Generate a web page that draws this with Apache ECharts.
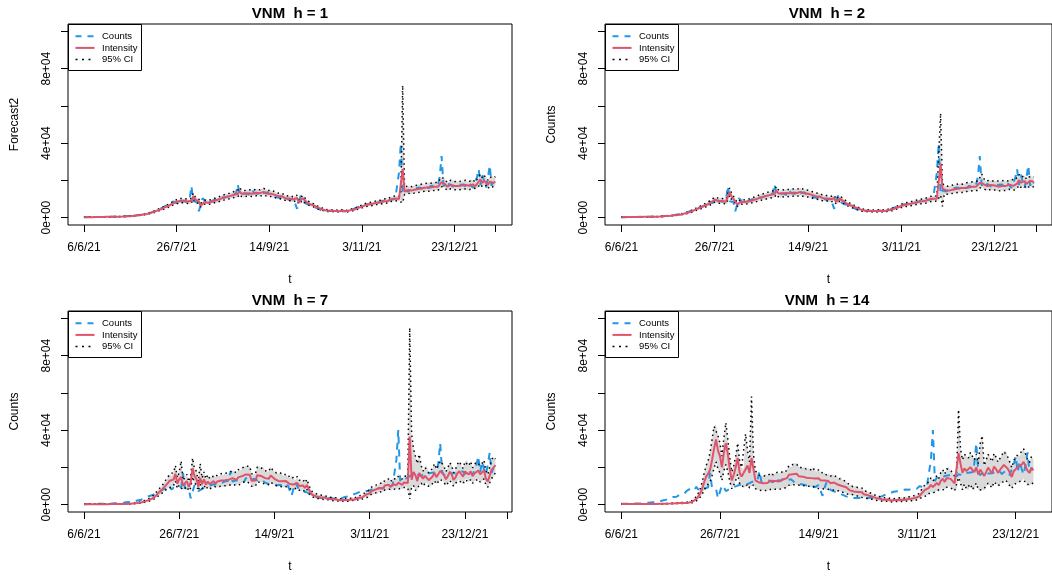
<!DOCTYPE html>
<html>
<head>
<meta charset="utf-8">
<script src="https://cdn.jsdelivr.net/npm/echarts@6/dist/echarts.min.js"></script>
<style>
  html, body { margin: 0; padding: 0; background: #fff; }
  #chart { width: 1052px; height: 576px; }
</style>
</head>
<body>
<div id="chart"></div>
<script>
// daily values in thousands, day 0 = 6/6/21
const counts = [
  0.2,0.2,0.3,0.2,0.3,0.3,0.2,0.3,0.3,0.3,
  0.3,0.4,0.3,0.4,0.4,0.4,0.5,0.4,0.5,0.5,
  0.5,0.6,0.7,0.6,0.8,0.9,0.8,1.0,1.2,1.3,
  1.4,1.6,1.5,1.9,2.2,2.4,2.6,3.1,3.4,4.0,
  4.5,4.2,5.1,5.6,6.3,6.0,7.2,7.5,8.6,8.3,
  7.8,9.6,8.0,9.1,8.7,8.5,7.9,9.3,17.0,8.8,
  9.7,8.4,3.4,4.1,10.4,9.3,7.2,7.6,8.4,9.0,
  9.4,8.8,10.2,9.9,10.9,11.4,10.7,11.6,11.5,12.1,
  12.5,11.9,12.7,18.0,12.4,11.6,13.0,13.4,12.9,13.8,
  11.9,14.3,13.1,13.6,12.8,13.9,14.1,13.0,12.4,13.6,
  12.6,11.8,12.2,11.1,11.4,10.8,11.6,10.3,9.9,10.6,
  10.2,9.3,9.6,10.4,10.9,4.7,8.8,11.8,9.7,7.9,
  7.4,7.0,6.2,6.6,5.6,5.3,4.9,4.4,4.0,3.6,
  3.8,3.5,3.4,3.6,3.3,3.5,3.7,3.2,3.5,3.8,
  3.6,3.3,3.9,4.1,3.7,4.4,5.0,5.3,5.6,6.0,
  6.4,6.9,6.6,7.2,7.5,7.3,7.9,8.1,8.4,8.0,
  8.7,8.9,9.3,8.6,9.8,10.1,9.5,10.4,10.2,9.9,
  24.0,40.0,12.6,14.5,15.1,14.0,14.8,15.3,15.0,15.7,
  15.4,16.2,15.9,15.1,16.3,16.6,15.8,16.9,16.4,17.1,
  16.2,17.3,22.0,33.0,17.6,15.8,16.9,18.1,17.4,16.7,
  17.5,16.8,16.2,17.6,16.9,17.8,16.4,17.2,18.3,17.6,
  15.9,18.8,21.3,26.0,17.4,23.0,19.2,16.1,21.5,28.0,
  17.0,19.8,18.4
];

// h = 1
const int1 = [
  0.2,0.2,0.2,0.3,0.2,0.3,0.3,0.3,0.3,0.3,
  0.3,0.3,0.4,0.4,0.4,0.4,0.4,0.5,0.5,0.5,
  0.5,0.5,0.6,0.7,0.7,0.8,0.9,0.9,1.0,1.2,
  1.3,1.4,1.6,1.7,1.9,2.2,2.5,2.7,3.1,3.5,
  4.0,4.4,4.6,5.2,5.7,6.2,6.4,7.0,7.6,8.3,
  8.4,8.2,9.0,8.6,9.0,8.8,8.6,8.3,9.0,11.5,
  9.8,9.4,8.6,6.5,6.8,8.2,8.8,8.0,8.0,8.5,
  8.9,9.2,9.1,9.8,10.0,10.6,11.1,11.0,11.4,11.6,
  11.9,12.3,12.1,12.6,14.2,12.8,12.2,12.8,13.2,13.1,
  13.5,12.8,13.7,13.3,13.5,13.1,13.6,13.8,13.3,12.8,
  13.2,12.8,12.2,12.2,11.6,11.5,11.1,11.4,10.7,10.2,
  10.4,10.3,9.7,9.7,10.2,10.5,8.2,8.6,10.4,9.8,
  8.5,7.7,7.2,6.5,6.5,5.9,5.5,5.1,4.7,4.3,
  3.9,3.9,3.6,3.5,3.6,3.4,3.5,3.6,3.4,3.5,
  3.7,3.6,3.4,3.8,4.0,3.9,4.3,4.8,5.2,5.5,
  5.9,6.3,6.7,6.7,7.1,7.4,7.4,7.8,8.0,8.3,
  8.2,8.6,8.8,9.2,8.9,9.6,9.9,9.7,10.2,10.2,
  10.0,11.0,26.0,14.0,14.3,14.8,14.3,14.6,15.1,15.1,
  15.5,15.5,16.0,15.9,15.4,16.1,16.5,16.1,16.7,16.6,
  17.0,16.5,17.1,19.0,19.5,17.8,16.6,16.8,17.6,17.5,
  17.0,17.3,16.9,16.5,17.2,17.0,17.5,16.8,17.1,17.9,
  17.8,16.7,17.9,18.4,20.5,18.6,19.8,19.5,17.6,19.2,
  20.0,18.6,19.3
];
const up1 = [
  0.3,0.3,0.3,0.4,0.3,0.4,0.4,0.4,0.4,0.4,
  0.4,0.4,0.5,0.5,0.5,0.5,0.5,0.6,0.6,0.6,
  0.6,0.6,0.7,0.8,0.8,0.9,1.0,1.1,1.2,1.4,
  1.5,1.6,1.8,2.0,2.2,2.5,2.9,3.1,3.5,4.0,
  4.5,5.0,5.2,5.9,6.5,7.0,7.3,7.9,8.6,9.4,
  9.6,9.3,10.3,9.8,10.3,10.0,9.8,9.5,10.3,13.1,
  11.2,10.8,9.9,7.6,7.9,9.4,10.1,9.2,9.2,9.8,
  10.2,10.5,10.4,11.2,11.4,12.1,12.7,12.6,13.0,13.2,
  13.6,14.0,13.8,14.4,16.2,14.6,13.9,14.6,15.0,14.9,
  15.4,14.6,15.6,15.2,15.4,14.9,15.5,15.7,15.2,14.6,
  15.1,14.6,13.9,13.9,13.2,13.1,12.7,13.0,12.2,11.6,
  11.9,11.8,11.1,11.1,11.7,12.0,9.4,9.9,11.9,11.2,
  9.7,8.8,8.2,7.4,7.4,6.7,6.3,5.8,5.4,4.9,
  4.5,4.5,4.1,4.0,4.1,3.9,4.0,4.1,3.9,4.0,
  4.2,4.1,3.9,4.3,4.6,4.5,4.9,5.5,5.9,6.3,
  6.7,7.2,7.6,7.6,8.1,8.4,8.4,8.9,9.1,9.5,
  9.3,9.8,10.0,10.5,10.1,10.9,11.3,11.1,11.6,11.6,
  11.4,12.5,71.0,16.5,16.3,16.9,16.3,16.6,17.2,17.2,
  17.7,17.7,18.2,18.1,17.6,18.4,18.8,18.4,19.0,18.9,
  19.4,18.8,19.5,21.7,22.2,20.3,18.9,19.2,20.1,20.0,
  19.4,19.7,19.3,18.8,19.6,19.4,20.0,19.2,19.5,20.4,
  20.3,19.0,20.4,21.0,23.4,21.2,22.6,22.2,20.1,21.9,
  22.8,21.2,22.0
];
const lo1 = [
  0.1,0.1,0.1,0.2,0.1,0.2,0.2,0.2,0.2,0.2,
  0.2,0.2,0.3,0.3,0.3,0.3,0.3,0.4,0.4,0.4,
  0.4,0.4,0.5,0.6,0.6,0.7,0.8,0.8,0.9,1.0,
  1.1,1.2,1.4,1.5,1.7,1.9,2.2,2.4,2.7,3.1,
  3.5,3.9,4.0,4.6,5.0,5.5,5.6,6.2,6.7,7.3,
  7.4,7.2,7.9,7.6,7.9,7.7,7.6,7.3,7.9,10.1,
  8.6,8.3,7.6,5.7,6.0,7.2,7.7,7.0,7.0,7.5,
  7.8,8.1,8.0,8.6,8.8,9.3,9.8,9.7,10.0,10.2,
  10.5,10.8,10.6,11.1,12.5,11.3,10.7,11.3,11.6,11.5,
  11.9,11.3,12.1,11.7,11.9,11.5,12.0,12.1,11.7,11.3,
  11.6,11.3,10.7,10.7,10.2,10.1,9.8,10.0,9.4,9.0,
  9.2,9.1,8.5,8.5,9.0,9.2,7.2,7.6,9.2,8.6,
  7.5,6.8,6.3,5.7,5.7,5.2,4.8,4.5,4.1,3.8,
  3.4,3.4,3.2,3.1,3.2,3.0,3.1,3.2,3.0,3.1,
  3.3,3.2,3.0,3.3,3.5,3.4,3.8,4.2,4.6,4.8,
  5.2,5.5,5.9,5.9,6.2,6.5,6.5,6.9,7.0,7.3,
  7.2,7.6,7.7,8.1,7.8,8.4,8.7,8.5,9.0,9.0,
  8.8,9.7,7.9,12.3,12.6,13.0,12.6,12.8,13.3,13.3,
  13.6,13.6,14.1,14.0,13.6,14.2,14.5,14.2,14.7,14.6,
  15.0,14.5,15.0,16.7,17.2,15.7,14.6,14.8,15.5,15.4,
  15.0,15.2,14.9,14.5,15.1,15.0,15.4,14.8,15.0,15.8,
  15.7,14.7,15.8,16.2,18.0,16.4,17.4,17.2,15.5,16.9,
  17.6,16.4,17.0
];

// h = 2
const int2 = [
  0.2,0.2,0.3,0.2,0.3,0.3,0.3,0.3,0.3,0.3,
  0.3,0.4,0.4,0.4,0.4,0.4,0.5,0.5,0.5,0.5,
  0.5,0.6,0.7,0.7,0.8,0.9,0.9,1.0,1.2,1.3,
  1.4,1.6,1.7,1.9,2.2,2.5,2.7,3.1,3.5,4.0,
  4.4,4.6,5.2,5.7,6.2,6.4,7.0,7.5,8.1,8.7,
  9.6,8.8,9.0,9.3,8.9,8.7,8.5,9.0,13.8,11.2,
  10.0,9.2,7.0,7.2,8.4,9.0,8.3,8.2,8.6,8.9,
  9.2,9.3,9.8,10.1,10.6,11.0,11.1,11.4,11.7,11.9,
  12.2,12.2,12.7,14.5,13.0,12.4,12.8,13.1,13.2,13.4,
  13.0,13.6,13.4,13.5,13.2,13.6,13.8,13.4,13.0,13.1,
  12.8,12.3,12.2,11.7,11.5,11.2,11.3,10.8,10.4,10.4,
  10.3,9.8,9.8,10.1,10.4,8.5,8.5,10.2,10.0,8.8,
  7.9,7.3,6.7,6.5,6.0,5.6,5.2,4.8,4.4,4.0,
  3.9,3.7,3.6,3.6,3.5,3.5,3.6,3.5,3.5,3.7,
  3.6,3.5,3.7,3.9,4.0,4.3,4.7,5.1,5.5,5.8,
  6.2,6.6,6.7,7.0,7.3,7.4,7.7,7.9,8.2,8.3,
  8.5,8.7,9.0,9.0,9.4,9.8,9.8,10.1,10.2,10.1,
  10.8,29.0,15.5,14.6,14.7,14.5,14.6,15.0,15.1,15.4,
  15.5,15.8,15.9,15.6,15.9,16.3,16.2,16.6,16.6,16.9,
  16.6,17.0,18.6,19.5,18.0,17.0,16.9,17.4,17.5,17.1,
  17.2,17.0,16.6,17.0,17.0,17.3,17.0,17.1,17.7,17.8,
  17.0,17.6,18.2,20.2,18.8,19.6,19.6,18.0,19.0,19.8,
  18.9,19.1
];
const up2 = [
  0.3,0.3,0.4,0.3,0.4,0.4,0.4,0.4,0.4,0.4,
  0.4,0.5,0.5,0.5,0.5,0.5,0.6,0.6,0.6,0.6,
  0.6,0.7,0.8,0.8,0.9,1.0,1.0,1.2,1.4,1.5,
  1.6,1.8,2.0,2.2,2.5,2.9,3.1,3.6,4.0,4.6,
  5.1,5.3,6.0,6.6,7.1,7.4,8.1,8.6,9.3,10.0,
  11.0,10.1,10.4,10.7,10.2,10.0,9.8,10.4,15.9,12.9,
  11.5,10.6,8.1,8.3,9.7,10.4,9.5,9.4,9.9,10.2,
  10.6,10.7,11.3,11.6,12.2,12.7,12.8,13.1,13.5,13.7,
  14.0,14.0,14.6,16.7,15.0,14.3,14.7,15.1,15.2,15.4,
  15.0,15.6,15.4,15.5,15.2,15.6,15.9,15.4,15.0,15.1,
  14.7,14.1,14.0,13.5,13.2,12.9,13.0,12.4,12.0,12.0,
  11.8,11.3,11.3,11.6,12.0,9.8,9.8,11.7,11.5,10.1,
  9.1,8.4,7.7,7.5,6.9,6.4,6.0,5.5,5.1,4.6,
  4.5,4.3,4.1,4.1,4.0,4.0,4.1,4.0,4.0,4.3,
  4.1,4.0,4.3,4.5,4.6,4.9,5.4,5.9,6.3,6.7,
  7.1,7.6,7.7,8.1,8.4,8.5,8.9,9.1,9.4,9.5,
  9.8,10.0,10.4,10.4,10.8,11.3,11.3,11.6,11.7,11.6,
  12.4,56.0,18.5,17.1,17.0,16.8,16.9,17.3,17.4,17.7,
  17.8,18.2,18.3,17.9,18.3,18.7,18.6,19.1,19.1,19.4,
  19.1,19.6,21.4,23.5,21.3,19.6,19.4,20.0,20.1,19.7,
  19.8,19.6,19.1,19.6,19.6,19.9,19.6,19.7,20.4,20.5,
  19.6,20.2,20.9,23.2,21.6,22.5,22.5,20.7,21.9,22.8,
  21.7,22.0
];
const lo2 = [
  0.1,0.1,0.2,0.1,0.2,0.2,0.2,0.2,0.2,0.2,
  0.2,0.3,0.3,0.3,0.3,0.3,0.4,0.4,0.4,0.4,
  0.4,0.5,0.6,0.6,0.7,0.8,0.8,0.9,1.0,1.1,
  1.2,1.4,1.5,1.6,1.9,2.2,2.3,2.7,3.0,3.4,
  3.8,4.0,4.5,4.9,5.3,5.5,6.0,6.5,7.0,7.5,
  8.3,7.6,7.7,8.0,7.7,7.5,7.3,7.7,11.9,9.6,
  8.6,7.9,6.0,6.2,7.2,7.7,7.1,7.1,7.4,7.7,
  7.9,8.0,8.4,8.7,9.1,9.5,9.5,9.8,10.1,10.2,
  10.5,10.5,10.9,12.5,11.2,10.7,11.0,11.3,11.4,11.5,
  11.2,11.7,11.5,11.6,11.4,11.7,11.9,11.5,11.2,11.3,
  11.0,10.6,10.5,10.1,9.9,9.6,9.7,9.3,8.9,8.9,
  8.9,8.4,8.4,8.7,8.9,7.3,7.3,8.8,8.6,7.6,
  6.8,6.3,5.8,5.6,5.2,4.8,4.5,4.1,3.8,3.4,
  3.4,3.2,3.1,3.1,3.0,3.0,3.1,3.0,3.0,3.2,
  3.1,3.0,3.2,3.4,3.4,3.7,4.0,4.4,4.7,5.0,
  5.3,5.7,5.8,6.0,6.3,6.4,6.6,6.8,7.1,7.1,
  7.3,7.5,7.7,7.7,8.1,8.4,8.4,8.7,8.8,8.7,
  9.3,12.0,6.0,12.6,12.6,12.5,12.6,12.9,13.0,13.2,
  13.3,13.6,13.7,13.4,13.7,14.0,13.9,14.3,14.3,14.5,
  14.3,14.6,16.0,16.8,15.5,14.6,14.5,15.0,15.1,14.7,
  14.8,14.6,14.3,14.6,14.6,14.9,14.6,14.7,15.2,15.3,
  14.6,15.1,15.7,17.4,16.2,16.9,16.9,15.5,16.3,17.0,
  16.3,16.4
];

// h = 7
const int7 = [
  0.2,0.2,0.2,0.2,0.2,0.2,0.2,0.2,0.2,0.2,
  0.2,0.2,0.2,0.2,0.3,0.3,0.3,0.3,0.3,0.3,
  0.3,0.3,0.3,0.4,0.4,0.5,0.6,0.7,0.8,1.0,
  1.1,1.4,1.7,2.0,2.4,2.8,3.3,4.2,5.0,6.2,
  7.0,7.9,9.2,9.8,11.5,12.8,12.0,13.4,16.5,11.2,
  13.6,14.8,10.1,11.5,12.6,9.5,11.8,19.5,15.2,13.8,
  9.6,14.2,11.0,13.6,10.7,12.4,10.9,11.8,12.6,11.3,
  12.4,11.7,12.9,12.2,13.1,12.6,13.4,13.0,14.2,13.7,
  13.3,14.6,14.0,15.3,15.9,16.2,15.7,16.0,12.8,12.5,
  12.9,15.8,16.2,15.4,16.1,14.2,13.6,13.9,15.6,14.6,
  13.8,13.2,12.7,13.4,12.5,11.9,12.6,11.6,11.0,12.0,
  10.8,10.1,11.6,10.0,9.4,10.3,8.9,10.5,8.2,6.2,
  5.1,4.6,4.4,4.1,3.9,3.6,3.8,3.4,3.1,3.3,
  2.9,2.6,2.8,2.5,2.3,2.6,2.4,2.2,2.5,2.3,
  2.6,2.9,2.7,3.2,3.5,3.1,3.8,4.6,5.3,5.0,
  6.1,7.3,6.8,8.0,7.5,8.9,9.6,8.7,10.3,9.9,
  10.6,9.4,10.9,11.3,10.5,11.8,11.2,10.6,11.9,12.4,
  11.6,36.6,13.3,17.5,15.8,12.6,16.9,16.2,13.9,15.4,
  16.0,13.1,12.9,15.1,17.0,14.7,16.3,18.1,18.7,15.9,
  13.6,15.2,17.4,16.3,13.2,14.5,16.8,17.9,16.4,15.0,
  17.8,18.5,16.1,17.9,15.2,16.7,17.6,18.3,16.2,17.1,
  18.4,13.9,12.4,15.6,18.6,19.8,21.2
];
const up7 = [
  0.3,0.3,0.3,0.3,0.3,0.3,0.3,0.3,0.3,0.3,
  0.3,0.3,0.3,0.3,0.4,0.4,0.4,0.4,0.4,0.4,
  0.4,0.4,0.4,0.5,0.5,0.7,0.8,0.9,1.1,1.4,
  1.5,1.9,2.3,2.7,3.2,3.7,4.4,5.5,6.5,8.0,
  9.0,10.2,11.8,12.6,14.7,16.4,15.4,17.2,21.0,14.4,
  17.4,23.4,13.0,14.8,16.2,12.3,15.2,25.0,19.5,17.8,
  12.4,22.0,14.2,17.5,13.8,16.0,14.0,15.2,16.2,14.6,
  16.0,15.1,16.6,15.7,16.8,16.2,17.2,16.7,18.2,17.6,
  17.1,18.7,18.0,19.6,20.3,20.7,20.1,20.5,16.5,16.1,
  16.6,20.2,20.7,19.7,20.6,18.2,17.5,17.9,20.0,18.7,
  17.7,17.0,16.4,17.2,16.1,15.4,16.2,15.0,14.2,15.5,
  14.0,13.1,15.0,13.0,12.2,13.5,11.6,13.6,10.7,8.1,
  6.7,6.0,5.8,5.4,5.1,4.7,5.0,4.5,4.1,4.3,
  3.8,3.4,3.7,3.3,3.0,3.4,3.2,2.9,3.3,3.0,
  3.4,3.8,3.5,4.2,4.6,4.1,5.0,6.0,6.9,6.5,
  7.9,9.4,8.8,10.3,9.7,11.5,12.4,11.3,13.3,12.8,
  13.7,12.2,14.1,14.6,13.6,15.2,14.5,13.7,15.4,16.0,
  15.0,95.0,38.0,30.0,26.0,22.0,27.0,21.0,18.0,20.0,
  20.7,17.0,16.7,19.5,22.0,19.0,21.1,23.4,24.2,20.6,
  17.6,19.7,22.5,21.1,17.1,18.8,21.7,23.2,21.2,19.4,
  23.0,23.9,20.8,23.2,19.7,21.6,22.8,23.7,21.0,22.1,
  23.8,18.0,16.1,20.2,24.1,25.6,24.5
];
const lo7 = [
  0.1,0.1,0.1,0.1,0.1,0.1,0.1,0.1,0.1,0.1,
  0.1,0.1,0.1,0.1,0.2,0.2,0.2,0.2,0.2,0.2,
  0.2,0.2,0.2,0.3,0.3,0.4,0.4,0.5,0.6,0.7,
  0.8,1.0,1.3,1.5,1.8,2.1,2.5,3.2,3.8,4.7,
  5.3,6.0,7.0,7.5,8.8,9.8,9.2,10.3,12.7,8.6,
  10.4,11.4,7.8,8.8,9.7,7.3,9.0,15.0,11.7,10.6,
  7.4,10.9,8.4,10.4,8.2,9.5,8.4,9.1,9.7,8.7,
  9.5,9.0,9.9,9.4,10.1,9.7,10.3,10.0,10.9,10.5,
  10.2,11.2,10.8,11.8,12.2,12.5,12.1,12.3,9.8,9.6,
  9.9,12.2,12.5,11.9,12.4,10.9,10.5,10.7,12.0,11.2,
  10.6,10.2,9.8,10.3,9.6,9.2,9.7,8.9,8.5,9.2,
  8.3,7.8,8.9,7.7,7.2,7.9,6.8,8.1,6.3,4.8,
  3.9,3.5,3.4,3.2,3.0,2.8,2.9,2.6,2.4,2.5,
  2.2,2.0,2.2,1.9,1.8,2.0,1.8,1.7,1.9,1.8,
  2.0,2.2,2.1,2.5,2.7,2.4,2.9,3.5,4.1,3.9,
  4.7,5.6,5.2,6.2,5.8,6.9,7.4,6.7,7.9,7.6,
  8.2,7.2,8.4,8.7,8.1,9.1,8.6,8.2,9.2,9.5,
  8.9,3.0,9.2,10.3,7.5,8.0,10.3,11.5,9.9,11.2,
  12.0,9.8,9.6,11.3,12.8,11.0,12.2,13.6,14.0,11.9,
  10.2,11.4,13.0,12.2,9.9,10.9,12.6,13.4,12.3,11.2,
  13.3,13.9,12.1,13.4,11.4,12.5,13.2,13.7,12.1,12.8,
  13.8,10.4,9.3,11.7,14.0,14.8,17.0
];

// h = 14
const int14 = [
  0.3,0.3,0.3,0.3,0.3,0.3,0.3,0.3,0.3,0.3,
  0.3,0.3,0.3,0.3,0.3,0.3,0.3,0.3,0.3,0.4,
  0.4,0.4,0.4,0.5,0.5,0.5,0.6,0.6,0.7,0.7,
  0.8,0.8,0.9,0.9,1.0,1.1,1.5,2.2,3.0,4.3,
  6.0,8.5,12.0,15.0,16.5,18.7,24.0,30.0,35.0,29.0,
  26.0,20.0,28.0,33.0,27.0,19.0,13.0,16.0,20.0,25.0,
  17.0,15.0,14.0,19.0,21.0,17.0,25.0,19.0,13.0,12.5,
  11.8,11.5,11.5,12.3,11.6,12.2,12.8,11.9,12.6,13.0,
  12.4,13.1,13.5,12.9,14.2,16.0,15.1,16.3,17.2,16.5,
  15.2,15.8,15.0,15.6,14.4,15.0,14.2,15.1,14.0,13.4,
  14.1,13.0,12.4,12.9,12.0,12.6,11.5,12.2,11.8,11.5,
  10.6,11.2,10.0,9.6,9.3,8.4,7.6,8.3,7.0,7.5,
  6.8,6.1,6.6,5.5,5.8,5.0,4.8,4.3,3.9,3.6,
  3.3,3.1,2.8,2.6,2.5,2.7,2.3,2.2,2.5,2.4,
  2.2,2.6,2.9,2.5,3.2,2.9,3.5,3.1,2.7,3.6,
  4.1,4.3,5.6,6.8,7.9,7.2,9.0,10.6,9.4,10.1,
  11.6,10.4,12.8,13.9,12.2,14.3,15.0,13.8,12.6,11.4,
  12.4,27.6,22.0,17.0,19.4,18.0,17.2,20.1,18.6,17.5,
  20.0,16.2,18.8,19.6,15.3,17.4,19.9,18.3,16.8,20.4,
  19.1,17.0,18.6,20.0,21.3,22.0,19.2,17.1,14.8,17.9,
  19.0,20.2,19.6,21.4,22.9,20.6,18.1,17.0,19.6,18.4
];
const up14 = [
  0.4,0.4,0.4,0.4,0.4,0.4,0.4,0.4,0.4,0.4,
  0.4,0.4,0.4,0.4,0.4,0.4,0.4,0.4,0.4,0.5,
  0.5,0.5,0.5,0.6,0.6,0.6,0.8,0.8,0.9,0.9,
  1.0,1.0,1.2,1.2,1.4,1.5,2.1,3.1,4.3,6.2,
  8.6,12.2,17.0,21.0,23.5,28.0,35.0,42.0,43.0,37.0,
  33.0,26.0,36.0,44.0,35.0,25.0,17.5,21.0,26.0,33.0,
  23.0,20.0,19.0,38.0,29.0,23.0,58.0,27.0,18.0,17.0,
  15.8,15.4,15.4,16.4,15.5,16.3,17.0,15.9,16.8,17.3,
  16.6,17.5,18.0,17.2,18.9,21.0,20.0,21.5,22.5,21.6,
  20.0,20.7,19.7,20.5,19.0,19.7,18.7,19.9,18.5,17.8,
  18.6,17.2,16.5,17.1,15.9,16.7,15.3,16.2,15.7,15.3,
  14.1,14.9,13.3,12.8,12.4,11.3,10.2,11.1,9.4,10.1,
  9.2,8.3,8.9,7.5,7.9,6.8,6.5,5.9,5.3,4.9,
  4.5,4.2,3.8,3.6,3.4,3.7,3.2,3.0,3.4,3.3,
  3.0,3.6,4.0,3.4,4.4,4.0,4.8,4.3,3.7,4.9,
  5.6,5.9,7.6,9.2,10.7,9.8,12.2,14.3,12.7,13.6,
  15.6,14.0,17.2,18.7,16.4,19.2,20.1,18.5,16.9,15.3,
  16.6,51.0,30.0,24.0,27.0,26.0,25.0,28.0,26.0,24.0,
  27.0,22.0,33.0,37.0,21.0,24.0,27.0,25.0,23.0,27.5,
  25.5,22.8,24.8,26.6,28.5,29.0,25.5,22.8,19.8,23.8,
  25.2,26.8,26.0,28.4,30.0,27.2,24.0,22.6,25.8,24.3
];
const lo14 = [
  0.2,0.2,0.2,0.2,0.2,0.2,0.2,0.2,0.2,0.2,
  0.2,0.2,0.2,0.2,0.2,0.2,0.2,0.2,0.2,0.3,
  0.3,0.3,0.3,0.4,0.4,0.4,0.4,0.4,0.5,0.5,
  0.6,0.6,0.6,0.6,0.7,0.8,1.0,1.5,2.0,2.9,
  4.0,5.6,7.8,9.8,10.8,12.2,15.6,19.5,23.0,19.0,
  17.0,13.0,18.2,21.5,17.6,12.4,8.5,10.4,13.0,16.3,
  11.0,9.8,9.1,9.5,11.0,9.0,10.0,10.5,8.5,8.1,
  7.7,7.5,7.5,8.0,7.5,7.9,8.3,7.7,8.2,8.5,
  8.1,8.5,8.8,8.4,9.2,10.4,9.8,10.6,11.2,10.7,
  9.9,10.3,9.8,10.1,9.4,9.8,9.2,9.8,9.1,8.7,
  9.2,8.5,8.1,8.4,7.8,8.2,7.5,7.9,7.7,7.5,
  6.9,7.3,6.5,6.2,6.0,5.5,4.9,5.4,4.6,4.9,
  4.4,4.0,4.3,3.6,3.8,3.3,3.1,2.8,2.5,2.3,
  2.1,2.0,1.8,1.7,1.6,1.8,1.5,1.4,1.6,1.6,
  1.4,1.7,1.9,1.6,2.1,1.9,2.3,2.0,1.8,2.3,
  2.7,2.8,3.6,4.4,5.1,4.7,5.9,6.9,6.1,6.6,
  7.5,6.8,8.3,9.0,7.9,9.3,9.8,9.0,8.2,7.4,
  8.1,14.5,11.5,8.0,11.0,8.5,7.5,11.0,8.0,7.5,
  11.5,8.0,7.0,8.0,7.6,9.6,11.5,10.3,9.0,12.2,
  11.5,10.0,11.0,11.8,12.7,13.2,11.4,10.1,8.7,10.6,
  11.3,12.0,11.6,12.8,13.7,12.3,10.7,10.0,11.7,11.0
];

const horizons = [1, 2, 7, 14];
const yNames = ['Forecast2', 'Counts', 'Counts', 'Counts'];
const intensity = [int1, int2, int7, int14];
const upper = [up1, up2, up7, up14];
const lower = [lo1, lo2, lo7, lo14];

const tickDays = [0, 50, 100, 150, 200];
const tickLabels = ['6/6/21', '26/7/21', '14/9/21', '3/11/21', '23/12/21'];
const endTick = [222, 222, 222, null];
const yTicks = [0, 20000, 40000, 60000, 80000, 100000];
const yLabelTicks = [0, 40000, 80000];
const yTickLabels = ['0e+00', '4e+04', '8e+04'];
const legendNames = ['Counts', 'Intensity', '95% CI'];

// plot boxes (pixels) and axis ranges in days
const boxes = [
  { left: 68, top: 24, width: 444, xmin: -8.6, xmax: 231.0 },
  { left: 605, top: 24, width: 447, xmin: -8.8, xmax: 230.7 },
  { left: 68, top: 311, width: 444, xmin: -8.4, xmax: 224.7 },
  { left: 605, top: 311, width: 447, xmin: -8.3, xmax: 218.4 }
];
const boxHeight = 201;

const FONT = '"Liberation Sans", Arial, Helvetica, sans-serif';
const BLUE = '#2297E6';
const RED = '#DF536B';

const chart = echarts.init(document.getElementById('chart'));

// build [day, value] pairs (values stored in thousands)
const toPairs = (arr) => arr.map((v, i) => [i, v * 1000]);

const grids = [], xAxes = [], yAxes = [], titles = [], series = [], graphics = [];

horizons.forEach((h, k) => {
  const b = boxes[k];
  grids.push({
    left: b.left, top: b.top, width: b.width, height: boxHeight,
    show: true, borderColor: '#000', borderWidth: 1, containLabel: false
  });

  xAxes.push({
    gridIndex: k, type: 'value', min: b.xmin, max: b.xmax,
    name: 't', nameLocation: 'middle', nameGap: 49,
    nameTextStyle: { fontFamily: FONT, fontSize: 12, color: '#000' },
    axisLine: { show: false, onZero: false },
    splitLine: { show: false },
    axisTick: {
      show: true, length: 7, lineStyle: { color: '#000' },
      customValues: endTick[k] == null ? tickDays : tickDays.concat([endTick[k]])
    },
    axisLabel: {
      customValues: tickDays, margin: 17,
      fontFamily: FONT, fontSize: 12, color: '#000',
      formatter: (v) => tickLabels[tickDays.indexOf(v)]
    }
  });

  yAxes.push({
    gridIndex: k, type: 'value', min: -4000, max: 104000,
    name: yNames[k], nameLocation: 'middle', nameGap: 47,
    nameTextStyle: { fontFamily: FONT, fontSize: 12, color: '#000' },
    axisLine: { show: false, onZero: false },
    splitLine: { show: false },
    axisTick: { show: true, length: 7, lineStyle: { color: '#000' }, customValues: yTicks },
    axisLabel: {
      customValues: yLabelTicks, rotate: 90, margin: 15,
      fontFamily: FONT, fontSize: 12, color: '#000',
      formatter: (v) => yTickLabels[yLabelTicks.indexOf(v)]
    }
  });

  titles.push({
    text: 'VNM  h = ' + h,
    left: b.left + 222, top: b.top - 18, textAlign: 'center', padding: 0,
    textStyle: { fontFamily: FONT, fontSize: 15, fontWeight: 'bold', color: '#000' }
  });

  const lo = lower[k], up = upper[k];
  const n = Math.min(lo.length, up.length);
  const cnt = counts.slice(h - 1);
  const common = { xAxisIndex: k, yAxisIndex: k, silent: true };

  // grey band between the CI limits, one polygon
  series.push(Object.assign({}, common, {
    type: 'custom', z: 1,
    data: lo.slice(0, n).map((v, i) => [i, v * 1000, up[i] * 1000]),
    encode: { x: 0, y: [1, 2] },
    renderItem: (params, api) => {
      if (params.dataIndex !== 0) return null;
      const pts = [];
      for (let i = 0; i < n; i++) pts.push(api.coord([i, up[i] * 1000]));
      for (let i = n - 1; i >= 0; i--) pts.push(api.coord([i, lo[i] * 1000]));
      return { type: 'polygon', shape: { points: pts }, style: { fill: '#dadada' } };
    }
  }));
  series.push(Object.assign({}, common, {
    type: 'line', symbol: 'none', name: 'Counts', z: 2,
    lineStyle: { color: BLUE, width: 2, type: [7, 6] },
    data: toPairs(cnt.slice(0, intensity[k].length))
  }));
  series.push(Object.assign({}, common, {
    type: 'line', symbol: 'none', name: '95% CI', z: 3,
    lineStyle: { color: '#000', width: 1.5, type: [1.5, 3.5] },
    data: toPairs(lo)
  }));
  series.push(Object.assign({}, common, {
    type: 'line', symbol: 'none', name: '95% CI upper', z: 3,
    lineStyle: { color: '#000', width: 1.5, type: [1.5, 3.5] },
    data: toPairs(up)
  }));
  series.push(Object.assign({}, common, {
    type: 'line', symbol: 'none', name: 'Intensity', z: 4,
    lineStyle: { color: RED, width: 2 },
    data: toPairs(intensity[k])
  }));

  // legend box, top-left of each plot
  const legStyles = [
    { stroke: BLUE, lineWidth: 2, lineDash: [6, 6] },
    { stroke: RED, lineWidth: 2 },
    { stroke: '#000', lineWidth: 1.5, lineDash: [2, 4.5] }
  ];
  const children = [{
    type: 'rect', shape: { x: 0, y: 0, width: 73, height: 46 },
    style: { fill: '#fff', stroke: '#000', lineWidth: 1 }
  }];
  legendNames.forEach((name, j) => {
    const y = 11.7 + j * 11.7;
    children.push({
      type: 'line', shape: { x1: 7, y1: y, x2: 26, y2: y },
      style: Object.assign({ fill: null }, legStyles[j])
    });
    children.push({
      type: 'text',
      style: {
        text: name, x: 33.5, y: y, fill: '#000',
        fontFamily: FONT, fontSize: 9.5, verticalAlign: 'middle', textVerticalAlign: 'middle'
      }
    });
  });
  graphics.push({ type: 'group', x: b.left + 0.5, y: b.top + 0.5, z: 100, children: children });
});

chart.setOption({
  animation: false,
  backgroundColor: '#fff',
  title: titles,
  grid: grids,
  xAxis: xAxes,
  yAxis: yAxes,
  series: series,
  graphic: { elements: graphics }
});
</script>
</body>
</html>
